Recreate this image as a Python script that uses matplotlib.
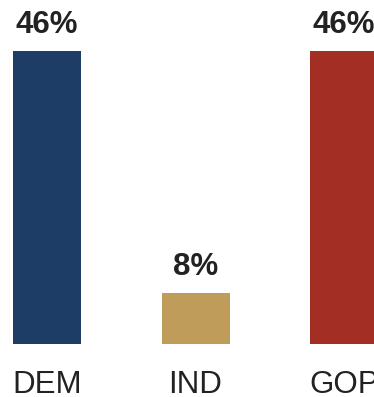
import matplotlib.pyplot as plt

# Party share
parties = ['DEM', 'IND', 'GOP']
shares = [46, 8, 46]
colors = ['#1d3c66', '#bf9c59', '#a32e23']

plt.rcParams['font.family'] = ['Liberation Sans', 'DejaVu Sans']

fig = plt.figure(figsize=(3.74, 3.97), dpi=100)
ax = fig.add_axes([0, 53 / 397, 1, 344 / 397])

x = range(len(parties))
ax.bar(x, shares, width=68 / 148.5, color=colors)

for xi, val, name in zip(x, shares, parties):
    ax.annotate(f'{val}%', xy=(xi, val), xytext=(0, 13), textcoords='offset points',
                ha='center', va='baseline', fontsize=22.5, fontweight='bold', color='#222222')
    ax.annotate(name, xy=(xi, 0), xytext=(0, -35.3), textcoords='offset points',
                ha='center', va='baseline', fontsize=22.5, color='#222222',
                annotation_clip=False)

ax.set_xlim(-47 / 148.5, 2 + 30 / 148.5)
ax.set_ylim(0, 46 * 344 / 293)
ax.axis('off')

plt.savefig('out.png', dpi=100)
